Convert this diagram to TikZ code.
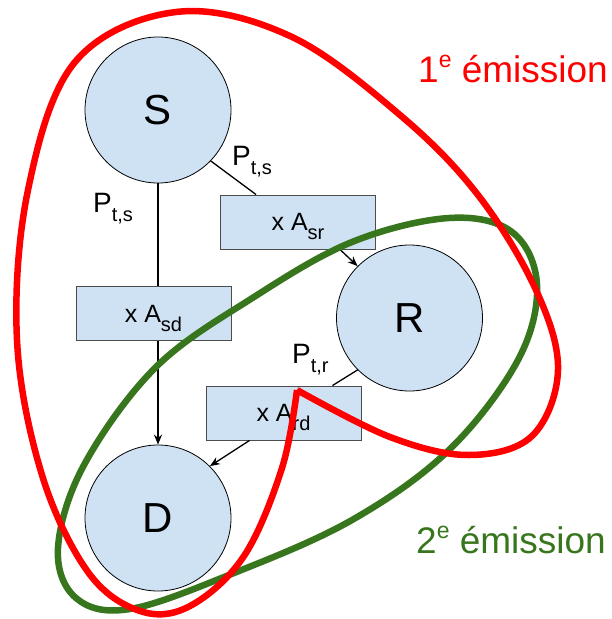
\documentclass[tikz,border=0pt]{standalone}
\usepackage{fontspec}
\setmainfont{Liberation Sans}
\usetikzlibrary{arrows.meta}
\definecolor{nodeblue}{HTML}{CFE2F3}
\definecolor{emred}{HTML}{FF0000}
\definecolor{emgreen}{HTML}{38761D}
\newcommand{\mysub}[2][20]{\raisebox{-9pt}[0pt][0pt]{\fontsize{#1}{#1}\selectfont #2}}
\newcommand{\mysup}[1]{\raisebox{15pt}{\fontsize{23}{23}\selectfont #1}}
\begin{document}
\begin{tikzpicture}[x=1pt,y=-1pt,
  circ/.style={circle,draw=black,line width=0.8pt,fill=nodeblue,minimum size=146pt,inner sep=0pt,font=\fontsize{42}{42}\selectfont},
  boxnode/.style={rectangle,draw=black!70,line width=0.9pt,fill=nodeblue,minimum width=155pt,minimum height=54pt,inner sep=0pt,font=\fontsize{25}{25}\selectfont},
  conn/.style={line width=1.3pt,draw=black},
  arr/.style={conn,-{Stealth[length=10pt,width=8pt]}},
  lbl/.style={anchor=base west,inner sep=0pt,font=\fontsize{28}{28}\selectfont},
  emlbl/.style={anchor=base west,inner sep=0pt,font=\fontsize{37}{37}\selectfont},
  loop/.style={line width=6.5pt}
]
\useasboundingbox (0,0) rectangle (611,619);

\node[circ] (S) at (158,110) {S};
\node[circ] (R) at (409.5,318) {R};
\node[circ] (D) at (158,518) {D};

\node[boxnode] (Asr) at (298,222) {x A\mysub{sr}};
\node[boxnode] (Asd) at (153.5,313.5) {x A\mysub{sd}};
\node[boxnode] (Ard) at (283.5,413) {x A\mysub{rd}};

\draw[conn] (S.south) -- (S.south |- Asd.north);
\draw[arr] (Asd.south -| D.north) -- (D.north);
\draw[conn] (S.-44) -- ([xshift=36pt]Asr.north west);
\draw[arr] ([xshift=-36pt]Asr.south east) -- (R.135);
\draw[conn] (R.225) -- ([xshift=-29pt]Ard.north east);
\draw[arr] ([xshift=44pt]Ard.south west) -- (D.45);

\node[lbl] (p1) at (93,212) {P\mysub{t,s}};
\node[lbl] (p2) at (232,165) {P\mysub{t,s}};
\node[lbl] (p3) at (292,363) {P\mysub{t,r}};

\node[emlbl,text=emred] (e1) at (418,82) {1\mysup{e} émission};
\node[emlbl,text=emgreen] (e2) at (416,553) {2\mysup{e} émission};

\draw[loop,emgreen] plot[smooth cycle,tension=0.6] coordinates {
 (449,218) (512,232) (537,285) (518,360) (449,450) (352,520)
 (234,573) (130,609) (76,598) (58,548) (84,465) (156,367) (254,297) (352,242)};

\draw[loop,emred,line join=miter] plot[smooth,tension=0.6] coordinates {
 (297,390) (282,468) (244,556) (190,606) (140,611) (88,572)
 (42,475) (17,340) (28,190) (75,62) (176,12) (290,36) (400,115)
 (478,195) (536,290) (558,370) (532,436) (469,455) (390,437) (297,390)};
\end{tikzpicture}
\end{document}
